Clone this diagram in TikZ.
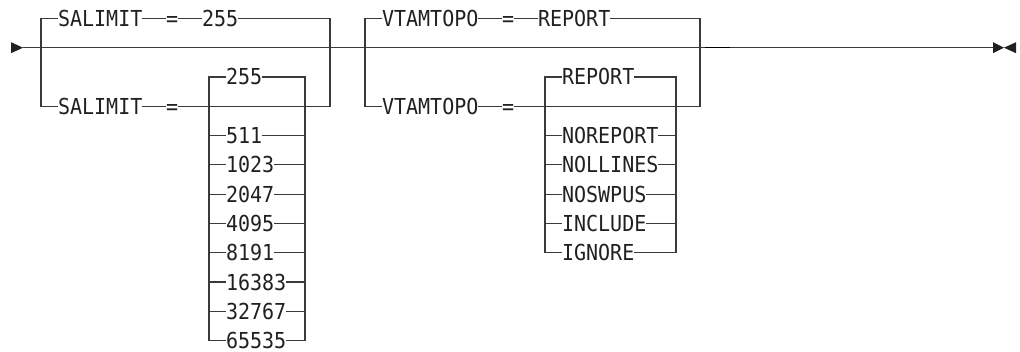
\documentclass[tikz,border=0pt]{standalone}
\usepackage{fontspec}
\newfontfamily\railfont[FakeStretch=0.91]{DejaVu Sans Mono}
\definecolor{railline}{HTML}{3A3A3A}
\definecolor{railtext}{HTML}{202020}
\tikzset{
  rail/.style={draw=railline, line width=1.2pt, line join=miter},
  kw/.style={anchor=west, inner sep=0pt, outer sep=0pt, text height=16.0pt, text depth=0pt,
             font=\railfont\fontsize{22}{26}\selectfont, text=railtext},
  tip/.style={fill=railtext, draw=none}
}
\begin{document}
\begin{tikzpicture}[x=1pt,y=-1pt]
\useasboundingbox (0,0) rectangle (1020,352);
% rows
\def\ra{18.4}
\def\rb{47.7}
\def\rc{77.0}
\def\rd{106.3}
% ---- coordinates of rails
\coordinate (start) at (23,\rb);
\coordinate (finish) at (993,\rb);
\coordinate (g1tl) at (41,\ra);  \coordinate (g1bl) at (41,\rd);
\coordinate (g1tr) at (330,\ra); \coordinate (g1br) at (330,\rd);
\coordinate (g2tl) at (365,\ra); \coordinate (g2bl) at (365,\rd);
\coordinate (g2tr) at (700,\ra); \coordinate (g2br) at (700,\rd);
\coordinate (i1tl) at (209,\rc); \coordinate (i1tr) at (305,\rc);
\coordinate (i2tl) at (545,\rc); \coordinate (i2tr) at (676,\rc);
\coordinate (dka) at (705,47.3);
\coordinate (dkb) at (730,47.3);

% ---- main line and end marks
\draw[rail] (start) -- (finish);
\draw[draw=black, line width=1.2pt] (dka) -- (dkb);
\fill[tip] (11,\rb-5.5) -- (start) -- (11,\rb+5.5) -- cycle;
\fill[tip] (993,\rb-5.5) -- (1004,\rb) -- (993,\rb+5.5) -- cycle;
\fill[tip] (1016,\rb-5.5) -- (1004,\rb) -- (1016,\rb+5.5) -- cycle;

% ---- group 1: SALIMIT
\node[kw] (s1) at (58,\ra) {SALIMIT};
\node[kw] (e1) at (166,\ra) {=};
\node[kw] (v1) at (202,\ra) {255};
\node[kw] (s2) at (58,\rd) {SALIMIT};
\node[kw] (e2) at (166,\rd) {=};

\draw[rail] (s1.west) -- (g1tl) -- (g1bl) -- (s2.west);
\draw[rail] (s1.east) -- (e1.west);
\draw[rail] (e1.east) -- (v1.west);
\draw[rail] (v1.east) -- (g1tr) -- (g1br) -- (e2.east);
\draw[rail] (s2.east) -- (e2.west);

% inner choice 1
\foreach \nm/\txt/\row in {a/255/0, b/511/2, c/1023/3, d/2047/4, e/4095/5, f/8191/6,
                           g/16383/7, h/32767/8, i/65535/9}{
  \node[kw] (p\nm) at (226,{\rc+29.3*\row}) {\txt};
}
\draw[rail] (pa.west) -- (i1tl) -- (pi.west -| i1tl) -- (pi.west);
\draw[rail] (pa.east) -- (i1tr) -- (pi.east -| i1tr) -- (pi.east);
\foreach \nm in {b,c,d,e,f,g,h}{
  \draw[rail] (p\nm.west -| i1tl) -- (p\nm.west);
  \draw[rail] (p\nm.east) -- (p\nm.east -| i1tr);
}

% ---- group 2: VTAMTOPO
\node[kw] (t1) at (382,\ra) {VTAMTOPO};
\node[kw] (e3) at (502,\ra) {=};
\node[kw] (w1) at (538,\ra) {REPORT};
\node[kw] (t2) at (382,\rd) {VTAMTOPO};
\node[kw] (e4) at (502,\rd) {=};

\draw[rail] (t1.west) -- (g2tl) -- (g2bl) -- (t2.west);
\draw[rail] (t1.east) -- (e3.west);
\draw[rail] (e3.east) -- (w1.west);
\draw[rail] (w1.east) -- (g2tr) -- (g2br) -- (e4.east);
\draw[rail] (t2.east) -- (e4.west);

% inner choice 2
\foreach \nm/\txt/\row in {a/REPORT/0, b/NOREPORT/2, c/NOLLINES/3, d/NOSWPUS/4,
                           e/INCLUDE/5, f/IGNORE/6}{
  \node[kw] (q\nm) at (562,{\rc+29.3*\row}) {\txt};
}
\draw[rail] (qa.west) -- (i2tl) -- (qf.west -| i2tl) -- (qf.west);
\draw[rail] (qa.east) -- (i2tr) -- (qf.east -| i2tr) -- (qf.east);
\foreach \nm in {b,c,d,e}{
  \draw[rail] (q\nm.west -| i2tl) -- (q\nm.west);
  \draw[rail] (q\nm.east) -- (q\nm.east -| i2tr);
}
\end{tikzpicture}
\end{document}
